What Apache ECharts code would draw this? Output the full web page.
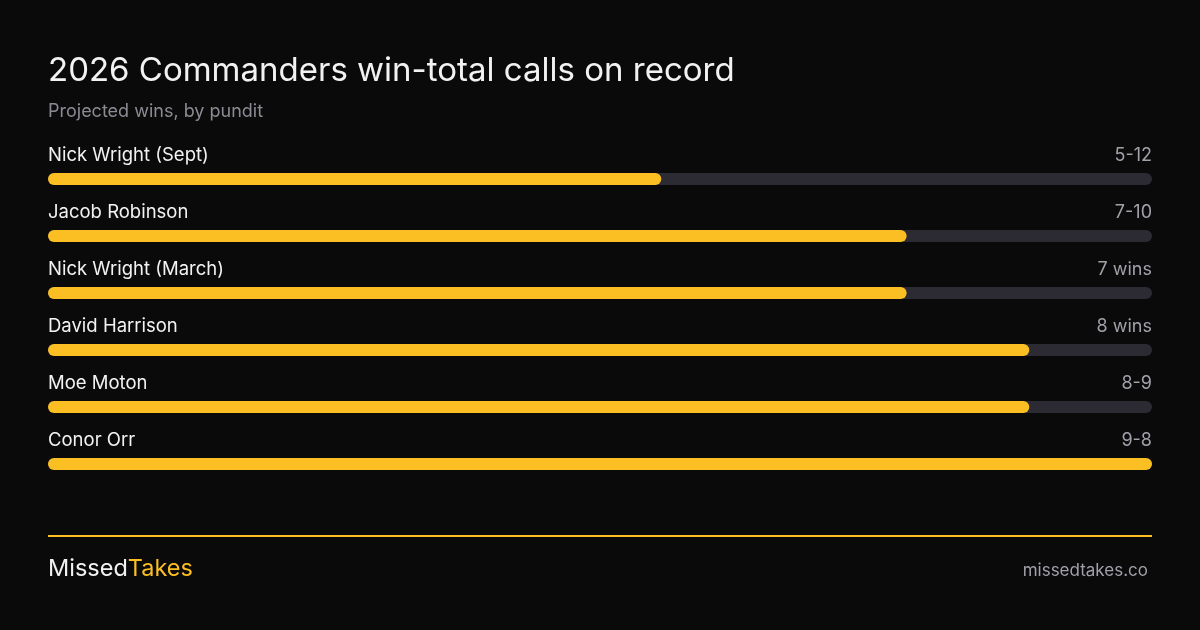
<!DOCTYPE html>
<html><head><meta charset="utf-8">
<script src="https://cdn.jsdelivr.net/npm/echarts@6/dist/echarts.min.js"></script>
<style>html,body{margin:0;padding:0;background:#0a0a0a;}#c{width:1200px;height:630px;}</style>
</head><body><div id="c"></div>
<script>
const pundits = ['Nick Wright (Sept)', 'Jacob Robinson', 'Nick Wright (March)', 'David Harrison', 'Moe Moton', 'Conor Orr'];
const projectedWins = [5, 7, 7, 8, 8, 9];
const callLabels = ['5-12', '7-10', '7 wins', '8 wins', '8-9', '9-8'];
const maxWins = 9;

const chart = echarts.init(document.getElementById('c'));
const font = 'Inter, "Noto Sans", sans-serif';
chart.setOption({
  backgroundColor: '#0a0a0a',
  animation: false,
  title: [
    { text: '2026 Commanders win-total calls on record', left: 43, top: 50,
      textStyle: { color: '#f2f2f2', fontSize: 33, fontWeight: 400, fontFamily: font } },
    { text: 'Projected wins, by pundit', left: 43, top: 98,
      textStyle: { color: '#8b8b94', fontSize: 18, fontWeight: 400, fontFamily: font } },
    { text: '{a|Missed}{b|Takes}', left: 43, top: 552,
      textStyle: { fontFamily: font, fontWeight: 400, rich: {
        a: { color: '#f2f2f2', fontSize: 23.5, fontWeight: 400, fontFamily: font },
        b: { color: '#fbbf24', fontSize: 23.5, fontWeight: 400, fontFamily: font } } } },
    { text: 'missedtakes.co', right: 47, top: 557,
      textStyle: { color: '#a1a1aa', fontSize: 17, fontWeight: 400, fontFamily: font } }
  ],
  graphic: [
    { type: 'line', shape: { x1: 48, y1: 536, x2: 1152, y2: 536 }, style: { stroke: '#fbbf24', lineWidth: 2 } }
  ],
  grid: { left: 48, right: 48, top: 150.5, height: 342, containLabel: false },
  xAxis: { type: 'value', min: 0, max: maxWins, show: false },
  yAxis: { type: 'category', data: pundits, inverse: true, show: false },
  series: [
    {
      type: 'bar', barWidth: 12, silent: true,
      data: pundits.map(() => maxWins),
      itemStyle: { color: '#2c2a33', borderRadius: 6 },
      label: { show: true, position: ['100%', -8], align: 'right', verticalAlign: 'bottom',
        formatter: p => callLabels[p.dataIndex],
        color: '#a1a1aa', fontSize: 18, fontFamily: font }
    },
    {
      type: 'bar', barWidth: 12, barGap: '-100%',
      data: projectedWins,
      itemStyle: { color: '#fbbf24', borderRadius: 6 },
      label: { show: true, position: [0, -8], align: 'left', verticalAlign: 'bottom',
        formatter: p => pundits[p.dataIndex],
        color: '#f2f2f2', fontSize: 18.5, fontFamily: font }
    }
  ]
});
</script></body></html>
